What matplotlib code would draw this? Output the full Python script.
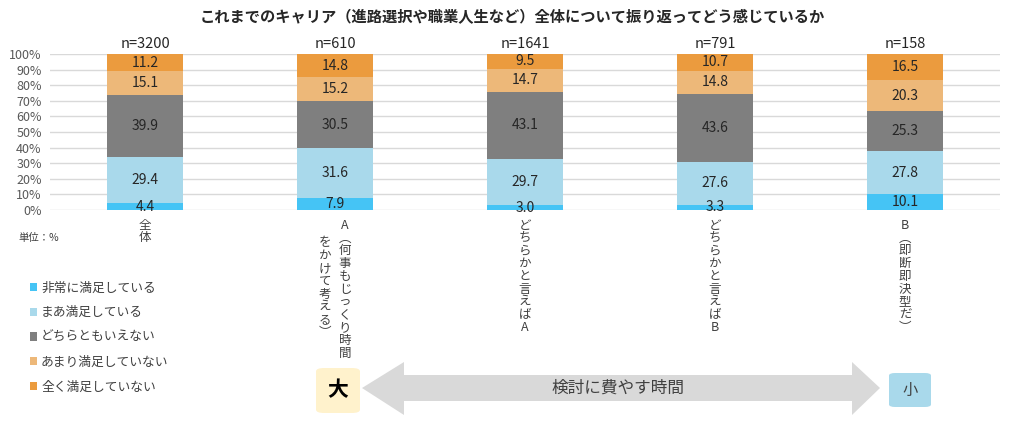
import matplotlib
matplotlib.use("Agg")
import matplotlib.pyplot as plt
from matplotlib.patches import Patch, FancyBboxPatch, Polygon
from matplotlib.ticker import PercentFormatter

plt.rcParams['font.family'] = ['Noto Sans CJK JP', 'DejaVu Sans']

# データ
groups = ['全体', 'A（何事もじっくり時間をかけて考える）', 'どちらかと言えばA', 'どちらかと言えばB', 'B（即断即決型だ）']
# 縦書きラベル（右の列から順に）
label_cols = [['全体'], ['A︵何事もじっくり時間', 'をかけて考える︶'], ['どちらかと言えばA'],
              ['どちらかと言えばB'], ['B︵即断即決型だ︶']]
n_counts = [3200, 610, 1641, 791, 158]
series_names = ['非常に満足している', 'まあ満足している', 'どちらともいえない', 'あまり満足していない', '全く満足していない']
very_satisfied = [4.4, 7.9, 3.0, 3.3, 10.1]
somewhat_satisfied = [29.4, 31.6, 29.7, 27.6, 27.8]
neutral = [39.9, 30.5, 43.1, 43.6, 25.3]
not_very = [15.1, 15.2, 14.7, 14.8, 20.3]
not_at_all = [11.2, 14.8, 9.5, 10.7, 16.5]
colors = ['#45C4F5', '#A9D9EB', '#7F7F7F', '#EDB879', '#EB9B3E']

title = 'これまでのキャリア（進路選択や職業人生など）全体について振り返ってどう感じているか'
W, H = 1024, 423


def fx(px):
    return px / W


def fy(py):
    return 1 - py / H


fig = plt.figure(figsize=(10.24, 4.23), dpi=100)
ax = fig.add_axes([fx(50), fy(210), fx(1000) - fx(50), fy(54) - fy(210)])

x = list(range(len(groups)))
bottom = [0] * len(groups)
for vals, name, c in zip([very_satisfied, somewhat_satisfied, neutral, not_very, not_at_all], series_names, colors):
    bars = ax.bar(x, vals, bottom=bottom, width=0.4, color=c, label=name, zorder=2)
    ax.bar_label(bars, labels=[f'{v:.1f}' for v in vals], label_type='center',
                 fontsize=10, color='#262626')
    bottom = [b + v for b, v in zip(bottom, vals)]

for i, n in enumerate(n_counts):
    ax.annotate(f'n={n}', xy=(i, 100), xytext=(0, 3), textcoords='offset pixels',
                ha='center', va='bottom', fontsize=10.5, color='#262626')

ax.set_xlim(-0.5, len(groups) - 0.5)
ax.set_ylim(0, 100)
ax.set_yticks(range(0, 101, 10))
ax.yaxis.set_major_formatter(PercentFormatter(decimals=0))
ax.set_xticks(x)
ax.set_xticklabels([])
ax.tick_params(length=0, labelsize=9, colors='#595959', pad=6)
ax.yaxis.grid(True, color='#D9D9D9', lw=1, zorder=0)
for s in ax.spines.values():
    s.set_visible(False)

# 縦書きのカテゴリラベル
step = 12.8
for i, cols in enumerate(label_cols):
    if len(cols) == 1:
        offs = [(0, 0)]
    else:
        offs = [(10, 0), (-10, 1.4)]
    for col, (dx, k0) in zip(cols, offs):
        for k, ch in enumerate(col):
            ax.annotate(ch, xy=(i, 0), xytext=(dx, -15 - (k + k0) * step), textcoords='offset pixels',
                        ha='center', va='center', fontsize=9, color='#404040',
                        annotation_clip=False)

fig.text(0.5, fy(17), title, ha='center', va='center', fontsize=11, fontweight='bold', color='#262626')
fig.text(fx(18), fy(238), '単位：%', ha='left', va='center', fontsize=7.5, color='#404040')

handles = [Patch(facecolor=c) for c in colors]
fig.legend(handles, series_names, loc='upper left', bbox_to_anchor=(fx(18), fy(270)),
           frameon=False, fontsize=9.2, handlelength=0.6, handleheight=0.6, handletextpad=0.3,
           labelspacing=0.92, labelcolor='#404040')

# 下部の矢印と「大」「小」
arrow = Polygon([(fx(362), fy(388)), (fx(404), fy(362)), (fx(404), fy(375)), (fx(852), fy(375)),
                 (fx(852), fy(362)), (fx(880), fy(388)), (fx(852), fy(415)), (fx(852), fy(401)),
                 (fx(404), fy(401)), (fx(404), fy(415))],
                closed=True, transform=fig.transFigure, facecolor='#D9D9D9', edgecolor='none')
fig.add_artist(arrow)
fig.text(fx(618), fy(388), '検討に費やす時間', ha='center', va='center', fontsize=12, color='#404040')

big = FancyBboxPatch((fx(316), fy(413)), fx(44), fy(368) - fy(413), boxstyle='round,pad=0,rounding_size=0.008',
                     transform=fig.transFigure, facecolor='#FFF2CC', edgecolor='none')
fig.add_artist(big)
fig.text(fx(338), fy(390), '大', ha='center', va='center', fontsize=15, fontweight='bold', color='black')

small = FancyBboxPatch((fx(889), fy(407)), fx(42), fy(373) - fy(407), boxstyle='round,pad=0,rounding_size=0.006',
                       transform=fig.transFigure, facecolor='#A9D9EB', edgecolor='none')
fig.add_artist(small)
fig.text(fx(910), fy(390), '小', ha='center', va='center', fontsize=11, color='#404040')

fig.savefig('out.png', dpi=100)
